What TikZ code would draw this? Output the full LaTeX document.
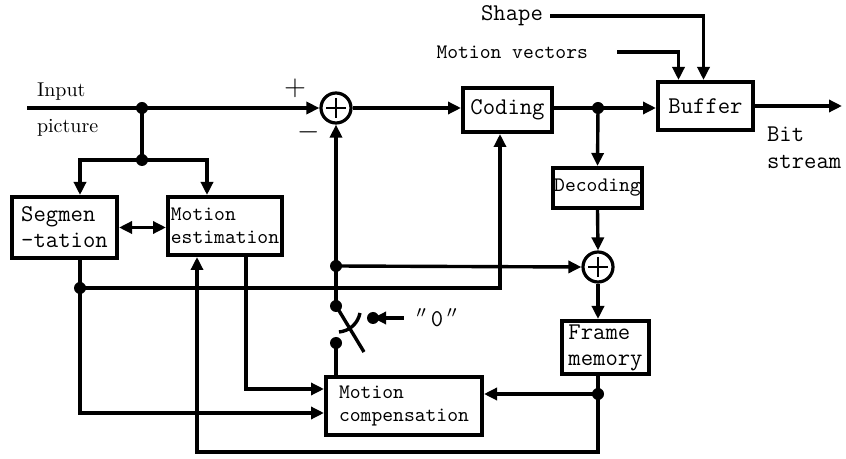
\documentclass[tikz,border=0pt]{standalone}
\usepackage{tikz}
\usetikzlibrary{arrows.meta, positioning, calc}

\begin{document}
\begin{tikzpicture}[x=0.5pt, y=-0.5pt,
		line/.style={line width=1.7pt},
		arr/.style={line, -{Triangle[length=6.5pt, width=6pt]}},
		darr/.style={line, {Triangle[length=6.5pt, width=6pt]}-{Triangle[length=6.5pt, width=6pt]}},
		blk/.style={draw, line width=2pt, align=left, inner sep=0.5pt, font=\ttfamily\fontsize{10.3}{11.5}\selectfont},
		bigblk/.style={blk, font=\ttfamily\fontsize{12}{13}\selectfont},
		sumnode/.style={draw, circle, line width=1.6pt, minimum size=15pt, inner sep=0pt,
			path picture={\draw[line width=1.3pt]
				([yshift=5pt]path picture bounding box.center) -- ([yshift=-5pt]path picture bounding box.center)
				([xshift=-5pt]path picture bounding box.center) -- ([xshift=5pt]path picture bounding box.center);}},
		lbl/.style={font=\ttfamily\fontsize{10.3}{11.5}\selectfont},
		biglbl/.style={font=\ttfamily\fontsize{12}{13.5}\selectfont, align=left}]
	\useasboundingbox (0,0) rectangle (846,459);

	% blocks
	\node[bigblk, minimum width=52.5pt, minimum height=30.5pt] (seg) at (64.5,227.5) {Segmen\\-tation};
	\node[blk, minimum width=57pt, minimum height=29pt] (mest) at (225,226) {Motion\\estimation};
	\node[bigblk, minimum width=44.5pt, minimum height=22pt] (coding) at (507.5,110) {Coding};
	\node[bigblk, minimum width=47.5pt, minimum height=24pt] (buffer) at (705.5,106) {Buffer};
	\node[blk, minimum width=44.5pt, minimum height=20pt] (decoding) at (597.5,188) {Decoding};
	\node[bigblk, minimum width=43.5pt, minimum height=26.5pt] (fmem) at (605.5,347.5) {Frame\\memory};
	\node[blk, minimum width=78pt, minimum height=29pt] (mcomp) at (404,406) {Motion\\compensation};
	\node[sumnode] (sum1) at (336,108) {};
	\node[sumnode] (sum2) at (598,267) {};

	% labels
	\node[anchor=west, font=\fontsize{10}{12}\selectfont] (inlbl) at (30,92) {Input};
	\node[anchor=west, font=\fontsize{10}{12}\selectfont] (piclbl) at (30,128) {picture};
	\node[font=\Large] (plus) at (295,88) {$+$};
	\node[font=\Large] (minus) at (309,132) {$-$};
	\node[biglbl, anchor=east] (shape) at (550,16) {Shape};
	\node[lbl, anchor=east] (mvec) at (595,52) {Motion vectors};
	\node[biglbl, anchor=north west] (bits) at (760,120) {Bit\\stream};
	\node[biglbl] (zero) at (437,318) {$''$\,0\,$''$};

	% junctions
	\coordinate (in) at (27,108);
	\coordinate (j1) at (142,108);
	\coordinate (j2) at (142,160);
	\coordinate (j3) at (598,108);
	\coordinate (j4) at (336,266);
	\coordinate (j5) at (80,288);
	\coordinate (j6) at (598,394);
	\coordinate (swa) at (336,306);
	\coordinate (swb) at (336,343);
	\coordinate (swz) at (373,318);
	\coordinate (out) at (842,106);

	% forward path
	\draw[line] (in) -- (j1);
	\draw[arr] (j1) -- (sum1.west);
	\draw[line] (j1) -- (j2);
	\draw[arr] (j2) -| (seg.north -| j5);
	\draw[arr] (j2) -| ([xshift=-9pt]mest.north);
	\draw[darr] (seg.east) -- (seg.east -| mest.west);
	\draw[arr] (sum1.east) -- (sum1.east -| coding.west);
	\draw[line] (coding.east |- j3) -- (j3);
	\draw[arr] (j3) -- (buffer.west |- j3);
	\draw[arr] (buffer.east) -- (out);
	\draw[arr] (shape.east) -| ([xshift=-1pt]buffer.north);
	\draw[arr] ([xshift=11pt]mvec.east) -| ([xshift=-13.5pt]buffer.north);

	% local decoder
	\draw[arr] (j3) -- (decoding.north);
	\draw[arr] (decoding.south) -- (sum2.north);
	\draw[arr] (sum2.south) -- (sum2.south |- fmem.north);
	\draw[line] (fmem.south -| j6) -- (j6);
	\draw[arr] (j6) -- (j6 -| mcomp.east);
	\draw[arr] (j6) -- (j6 |- 0,452) -| ([xshift=-14pt]mest.south);

	% prediction and side paths
	\draw[arr] ([xshift=10.5pt]mest.south) |- (mcomp.west |- 0,389);
	\draw[line] (seg.south -| j5) -- (j5);
	\draw[arr] (j5) |- (mcomp.west |- 0,413);
	\draw[arr] (j5) -| ([xshift=-3.75pt]coding.south);
	\draw[arr] (j4) -- (sum1.south);
	\draw[arr] (j4) -- (sum2.west);
	\draw[line] (j4) -- (swa);
	\draw[line] (swb) -- (swb |- mcomp.north);

	% switch
	\draw[line] (338,309) -- (364,352);
	\draw[line] (339,332) .. controls (350,331) and (358,323) .. (360,313);
	\draw[arr] ([xshift=-3pt]zero.west) -- (swz);

	\foreach \p in {j1,j2,j3,j4,j5,j6,swa,swb,swz}
		\fill (\p) circle (3pt);
\end{tikzpicture}
\end{document}
